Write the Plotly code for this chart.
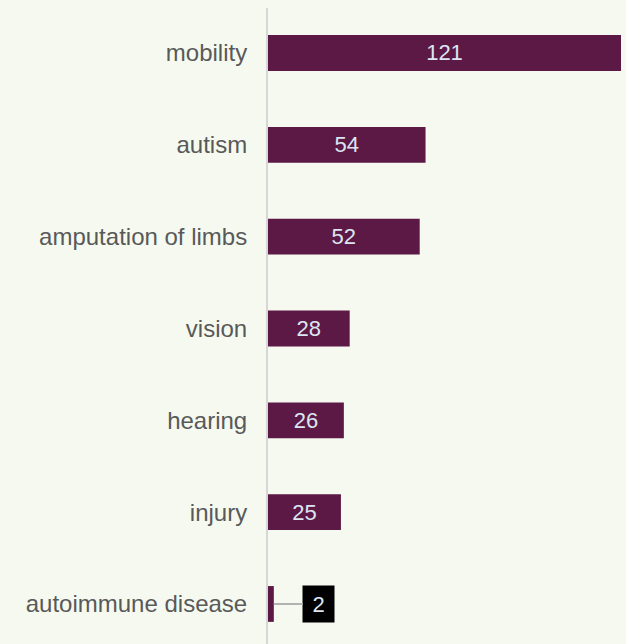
import plotly.graph_objects as go

categories = ["mobility", "autism", "amputation of limbs", "vision", "hearing", "injury", "autoimmune disease"]
values = [121, 54, 52, 28, 26, 25, 2]

BAR = "#5c1945"
BG = "#f5f9f0"
FONT = "Liberation Sans, Arial, sans-serif"

inside_text = [str(v) if v >= 10 else "" for v in values]

fig = go.Figure()
fig.add_trace(go.Bar(
    x=values, y=categories, orientation="h",
    marker=dict(color=BAR, line=dict(width=0)),
    width=0.39,
    text=inside_text, textposition="inside", insidetextanchor="middle",
    textfont=dict(color="#dce6f3", size=22, family=FONT),
    hoverinfo="skip",
))

for c, v in zip(categories, values):
    if v < 10:
        fig.add_annotation(
            x=v, y=c, xref="x", yref="y",
            text=str(v), showarrow=True, arrowhead=0, arrowwidth=2, arrowcolor="#b3b3b3",
            ax=45, ay=0, xanchor="center",
            width=29, height=34, align="center", valign="middle",
            bgcolor="#000000", font=dict(color="#dce6f3", size=22, family=FONT),
            borderpad=1,
        )

fig.update_layout(
    width=626, height=644,
    margin=dict(l=268, r=5, t=8, b=0),
    paper_bgcolor=BG, plot_bgcolor=BG,
    showlegend=False,
    font=dict(family=FONT, size=24, color="#595959"),
    xaxis=dict(range=[0, 121], visible=False, showgrid=False, zeroline=False),
    yaxis=dict(
        categoryorder="array", categoryarray=categories,
        range=[6.436, -0.49],
        showline=True, linecolor="#d6d6d6", linewidth=2,
        ticks="outside", ticklen=14, tickcolor="rgba(0,0,0,0)",
        showgrid=False, zeroline=False,
        tickfont=dict(size=24, color="#595959", family=FONT),
    ),
)

fig.write_html("out.html", config={"displayModeBar": False},
               post_script="document.body.style.margin='0';document.body.style.overflow='hidden';")
